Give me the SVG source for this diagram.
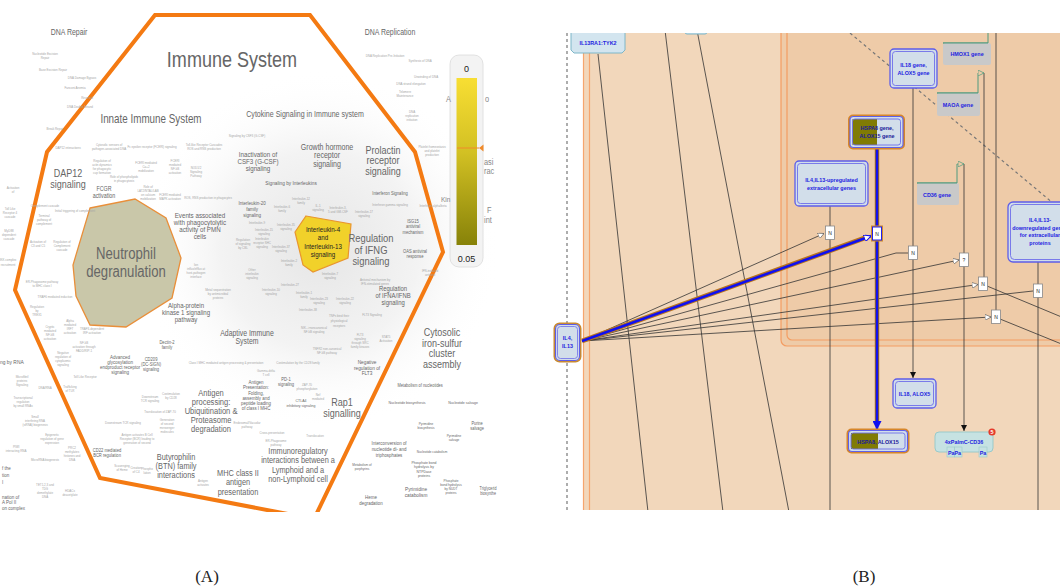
<svg xmlns="http://www.w3.org/2000/svg" width="1060" height="588" viewBox="0 0 1060 588">
<defs>
<style>
.a{font-family:"Liberation Sans",Arial,sans-serif;fill:#666;text-anchor:middle;transform-box:fill-box;transform-origin:50% 50%;transform:scaleX(0.82)}
.s{text-anchor:start;transform-origin:0% 50%}
.t{font-size:3.6px;fill:#a6a6a6}
.num{font-family:"Liberation Sans",Arial,sans-serif;font-size:9px;fill:#222;text-anchor:middle}
.b{font-family:"Liberation Sans",Arial,sans-serif;font-weight:bold;fill:#2323E0;text-anchor:middle;font-size:5.4px}
.cap{font-family:"Liberation Serif","Times New Roman",serif;font-size:17px;fill:#222;text-anchor:middle}
.ln{stroke:#333;stroke-width:0.8;fill:none}
.nb{fill:#fff;stroke:#888;stroke-width:0.8}
.nt{font-family:"Liberation Sans",Arial,sans-serif;font-size:5px;fill:#222;text-anchor:middle}
.o1{fill:#D2DEEA;stroke:#5E5EE8;stroke-width:1.3}
.o2{fill:none;stroke:#6E6EEA;stroke-width:0.9}
.gene{fill:#C9C9C9}
.gl{fill:none;stroke:#4E9A7E;stroke-width:1}
</style>
<clipPath id="cA"><rect x="0" y="0" width="500" height="512"/></clipPath>
<clipPath id="cB"><rect x="555" y="33" width="505" height="477"/></clipPath>
<linearGradient id="lg" x1="0" y1="0" x2="0" y2="1">
<stop offset="0" stop-color="#F8DE33"/><stop offset="0.45" stop-color="#D2C023"/><stop offset="1" stop-color="#878209"/>
</linearGradient>
<radialGradient id="rg" cx="320" cy="250" r="180" gradientUnits="userSpaceOnUse">
<stop offset="0" stop-color="#e6e6e6"/><stop offset="0.55" stop-color="#f3f3f3"/><stop offset="1" stop-color="#ffffff" stop-opacity="0"/>
</radialGradient>
<marker id="oa" viewBox="0 0 10 10" refX="10" refY="5" markerWidth="6" markerHeight="6" orient="auto" markerUnits="userSpaceOnUse">
<path d="M0,0 L10,5 L0,10 z" fill="#fff" stroke="#555" stroke-width="1"/>
</marker>
<marker id="ob" viewBox="0 0 10 10" refX="10" refY="5" markerWidth="7" markerHeight="7" orient="auto" markerUnits="userSpaceOnUse">
<path d="M0,0 L10,5 L0,10 z" fill="#fff" stroke="#1010F0" stroke-width="1.5"/>
</marker>
<marker id="og" viewBox="0 0 10 10" refX="10" refY="5" markerWidth="6" markerHeight="6" orient="auto" markerUnits="userSpaceOnUse">
<path d="M0,0 L10,5 L0,10 z" fill="#EECBA8" stroke="#4E9A7E" stroke-width="1.2"/>
</marker>
<marker id="fa" viewBox="0 0 10 10" refX="10" refY="5" markerWidth="6" markerHeight="6" orient="auto" markerUnits="userSpaceOnUse">
<path d="M0,0 L10,5 L0,10 z" fill="#111"/>
</marker>
<marker id="fb" viewBox="0 0 10 10" refX="10" refY="5" markerWidth="9" markerHeight="9" orient="auto" markerUnits="userSpaceOnUse">
<path d="M0,0 L10,5 L0,10 z" fill="#1010F0"/>
</marker>
</defs>
<rect width="1060" height="588" fill="#fff"/>

<!-- ================= PANEL A ================= -->
<g id="panelA" clip-path="url(#cA)">
<rect x="0" y="0" width="500" height="512" fill="url(#rg)"/>
<g id="immune-system-boundary">
<path d="M155,15 L310,15 L415,152 L443,252 L314,519 L100,478 L15,290 L47,152 Z" fill="none" stroke="#F47A12" stroke-width="4" stroke-linejoin="miter"/>
</g>

<g id="node-neutrophil">
<path d="M90,208 L135,199 L166,218 L181,258 L172,298 L126,327 L90,325 L76,296 L73,265 Z" fill="#C9C7A9" stroke="#E98F3A" stroke-width="1.3"/>
<text class="a" font-size="16" fill="#555"><tspan x="126" y="259">Neutrophil</tspan><tspan x="126" y="277">degranulation</tspan></text>
</g>

<g id="node-il4-il13">
<path d="M306,216 L351,224 L348,258 L313,272 L303,265 L295,232 Z" fill="#F1D12A" stroke="#E9962E" stroke-width="1.2"/>
<text class="a" font-size="7.6" style="fill:#222"><tspan x="323" y="232">Interleukin-4</tspan><tspan x="323" y="240.5">and</tspan><tspan x="323" y="249">Interleukin-13</tspan><tspan x="323" y="257.5">signaling</tspan></text>
</g>

<g id="labels-large">
<text class="a" x="232" y="67" font-size="22">Immune System</text>
<text class="a" x="69" y="35" font-size="8.5">DNA Repair</text>
<text class="a" x="390" y="35" font-size="8.5">DNA Replication</text>
<text class="a" x="151" y="123" font-size="12">Innate Immune System</text>
<text class="a" x="305" y="117" font-size="8.6">Cytokine Signaling in Immune system</text>
<text class="a" font-size="11"><tspan x="68" y="177">DAP12</tspan><tspan x="68" y="188">signaling</tspan></text>
<text class="a" font-size="6.5"><tspan x="104" y="191">FCGR</tspan><tspan x="104" y="198">activation</tspan></text>
<text class="a" font-size="7.6"><tspan x="258" y="157.5">Inactivation of</tspan><tspan x="258" y="164.5">CSF3 (G-CSF)</tspan><tspan x="258" y="171.5">signaling</tspan></text>
<text class="a" font-size="8.6"><tspan x="327" y="150">Growth hormone</tspan><tspan x="327" y="158.5">receptor</tspan><tspan x="327" y="167">signaling</tspan></text>
<text class="a" font-size="11"><tspan x="383" y="154">Prolactin</tspan><tspan x="383" y="164.5">receptor</tspan><tspan x="383" y="175">signaling</tspan></text>
<text class="a" x="291" y="185" font-size="5.8">Signaling by Interleukins</text>
<text class="a" x="390" y="195.5" font-size="5">Interferon Signaling</text>
<text class="a" font-size="7.6"><tspan x="200" y="218.5">Events associated</tspan><tspan x="200" y="225.5">with phagocytolytic</tspan><tspan x="200" y="232.5">activity of PMN</tspan><tspan x="200" y="239.5">cells</tspan></text>
<text class="a" font-size="5.5"><tspan x="252" y="205">Interleukin-20</tspan><tspan x="252" y="211">family</tspan><tspan x="252" y="217">signaling</tspan></text>
<text class="a" font-size="11.5"><tspan x="371" y="242">Regulation</tspan><tspan x="371" y="254">of IFNG</tspan><tspan x="371" y="265.5">signaling</tspan></text>
<text class="a" font-size="5"><tspan x="413" y="223">ISG15</tspan><tspan x="413" y="228.5">antiviral</tspan><tspan x="413" y="234">mechanism</tspan></text>
<text class="a" font-size="5"><tspan x="415" y="253">OAS antiviral</tspan><tspan x="415" y="258.5">response</tspan></text>
<text class="a" font-size="7.4"><tspan x="186" y="308.5">Alpha-protein</tspan><tspan x="186" y="315.5">kinase 1 signaling</tspan><tspan x="186" y="322.5">pathway</tspan></text>
<text class="a" font-size="7.2"><tspan x="393" y="291.5">Regulation</tspan><tspan x="393" y="298.5">of IFNA/IFNB</tspan><tspan x="393" y="305.5">signaling</tspan></text>
<text class="a" font-size="8.4"><tspan x="247" y="336">Adaptive Immune</tspan><tspan x="247" y="344">System</tspan></text>
<text class="a" font-size="11"><tspan x="442" y="336">Cytosolic</tspan><tspan x="442" y="347">iron-sulfur</tspan><tspan x="442" y="357.5">cluster</tspan><tspan x="442" y="368">assembly</tspan></text>
<text class="a" font-size="9.2"><tspan x="211" y="396">Antigen</tspan><tspan x="211" y="405">processing:</tspan><tspan x="211" y="414">Ubiquitination &amp;</tspan><tspan x="211" y="423">Proteasome</tspan><tspan x="211" y="432">degradation</tspan></text>
<text class="a" font-size="5.4"><tspan x="256" y="384">Antigen</tspan><tspan x="256" y="389.3">Presentation:</tspan><tspan x="256" y="394.6">Folding,</tspan><tspan x="256" y="399.9">assembly and</tspan><tspan x="256" y="405.2">peptide loading</tspan><tspan x="256" y="410.5">of class I MHC</tspan></text>
<text class="a" font-size="5"><tspan x="286" y="381">PD-1</tspan><tspan x="286" y="386.5">signaling</tspan></text>
<text class="a" font-size="11"><tspan x="342" y="406.5">Rap1</tspan><tspan x="342" y="417">signalling</tspan></text>
<text class="a" font-size="5.8"><tspan x="367" y="364.5">Negative</tspan><tspan x="367" y="370">regulation of</tspan><tspan x="367" y="375.5">FLT3</tspan></text>
<text class="a" font-size="4.3"><tspan x="301" y="402">CTLA4</tspan><tspan x="301" y="407">inhibitory signaling</tspan></text>
<text class="a" font-size="9"><tspan x="176" y="460">Butyrophilin</tspan><tspan x="176" y="469">(BTN) family</tspan><tspan x="176" y="478">interactions</tspan></text>
<text class="a" font-size="9"><tspan x="238" y="476">MHC class II</tspan><tspan x="238" y="485.5">antigen</tspan><tspan x="238" y="495">presentation</tspan></text>
<text class="a" font-size="9"><tspan x="298" y="454">Immunoregulatory</tspan><tspan x="298" y="463.5">interactions between a</tspan><tspan x="298" y="473">Lymphoid and a</tspan><tspan x="298" y="482.5">non-Lymphoid cell</tspan></text>
<text class="a" font-size="5.4"><tspan x="389" y="445">Interconversion of</tspan><tspan x="389" y="451">nucleotide di- and</tspan><tspan x="389" y="457">triphosphates</tspan></text>
<text class="a" font-size="5.8"><tspan x="416" y="491">Pyrimidine</tspan><tspan x="416" y="497.5">catabolism</tspan></text>
<text class="a" font-size="5.4"><tspan x="371" y="499">Heme</tspan><tspan x="371" y="505">degradation</tspan></text>
<text class="a" font-size="5.5"><tspan x="120" y="359">Advanced</tspan><tspan x="120" y="364">glycosylation</tspan><tspan x="120" y="369">endproduct receptor</tspan><tspan x="120" y="374">signaling</tspan></text>
<text class="a" font-size="5"><tspan x="151" y="361">CD209</tspan><tspan x="151" y="366">(DC-SIGN)</tspan><tspan x="151" y="371">signaling</tspan></text>
<text class="a" font-size="5"><tspan x="167" y="344">Dectin-2</tspan><tspan x="167" y="349.5">family</tspan></text>
<text class="a" font-size="5"><tspan x="107" y="452">CD22 mediated</tspan><tspan x="107" y="457.5">BCR regulation</tspan></text>
<text class="a s" x="0" y="364" font-size="6">ng by RNA</text>
<text class="a s" font-size="5.5"><tspan x="2" y="470">f the</tspan><tspan x="2" y="477">tion</tspan><tspan x="2" y="484">I</tspan><tspan x="2" y="499">nation of</tspan><tspan x="2" y="504.5">A Pol II</tspan><tspan x="2" y="510">on complex</tspan></text>
<text class="a" x="420" y="387" font-size="4.8">Metabolism of nucleotides</text>
<text class="a" x="407" y="404" font-size="4.3">Nucleotide biosynthesis</text>
<text class="a" x="463" y="404" font-size="4.3">Nucleotide salvage</text>
<text class="a" font-size="4.8"><tspan x="477" y="425">Purine</tspan><tspan x="477" y="430.5">salvage</tspan></text>
<text class="a" font-size="3.8"><tspan x="426" y="425">Pyrimidine</tspan><tspan x="426" y="429.5">biosynthesis</tspan></text>
<text class="a" font-size="3.8"><tspan x="454" y="437">Pyrimidine</tspan><tspan x="454" y="441.5">salvage</tspan></text>
<text class="a" font-size="4.5"><tspan x="488" y="490">Triglycerid</tspan><tspan x="488" y="495">biosynthe</tspan></text>
<text class="a" font-size="4.2"><tspan x="424" y="464">Phosphate bond</tspan><tspan x="424" y="468.5">hydrolysis by</tspan><tspan x="424" y="473">NTPDase</tspan><tspan x="424" y="477.5">proteins</tspan></text>
<text class="a" font-size="3.8"><tspan x="451" y="482">Phosphate</tspan><tspan x="451" y="486">bond hydrolysis</tspan><tspan x="451" y="490">by NUDT</tspan><tspan x="451" y="494">proteins</tspan></text>
<text class="a" x="432" y="453" font-size="3.8">Nucleotide catabolism</text>
<text class="a" font-size="3.8"><tspan x="362" y="466">Metabolism of</tspan><tspan x="362" y="470">porphyrins</tspan></text>
</g>

<g id="labels-small">
<text class="a t" x="385" y="57">DNA Replication Pre-Initiation</text>
<text class="a t" x="420" y="62">Synthesis of DNA</text>
<text class="a t" x="426" y="78">Unwinding of DNA</text>
<text class="a t" x="411" y="85">DNA strand elongation</text>
<text class="a t"><tspan x="405" y="93">Telomere</tspan><tspan x="405" y="97">Maintenance</tspan></text>
<text class="a t"><tspan x="412" y="113">DNA</tspan><tspan x="412" y="117">replication</tspan><tspan x="412" y="121">initiation</tspan></text>
<text class="a t"><tspan x="432" y="148">Platelet homeostasis</tspan><tspan x="432" y="152">and platelet</tspan><tspan x="432" y="156">production</tspan></text>
<text class="a t"><tspan x="45" y="55">Nucleotide Excision</tspan><tspan x="45" y="59">Repair</tspan></text>
<text class="a t" x="53" y="71">Base Excision Repair</text>
<text class="a t" x="82" y="79">DNA Damage Bypass</text>
<text class="a t" x="75" y="89">Fanconi Anemia</text>
<text class="a t" x="87" y="99">Reversal</text>
<text class="a t" x="80" y="108">DNA Double-Strand</text>
<text class="a t" x="55" y="130">Break Repair</text>
<text class="a t" x="68" y="149">DAP12 interactions</text>
<text class="a t"><tspan x="109" y="146">Cytosolic sensors of</tspan><tspan x="109" y="150">pathogen-associated DNA</tspan></text>
<text class="a t" x="152" y="148">Fc epsilon receptor (FCERI) signaling</text>
<text class="a t"><tspan x="204" y="146">Toll-like Receptor Cascades</tspan><tspan x="204" y="150">ROS and RNS production</tspan></text>
<text class="a t"><tspan x="102" y="162">Regulation of</tspan><tspan x="102" y="166">actin dynamics</tspan><tspan x="102" y="170">for phagocytic</tspan><tspan x="102" y="174">cup formation</tspan></text>
<text class="a t"><tspan x="146" y="164">FCERI mediated</tspan><tspan x="146" y="168">Ca+2</tspan><tspan x="146" y="172">mobilization</tspan></text>
<text class="a t"><tspan x="175" y="162">FCERI</tspan><tspan x="175" y="166">mediated</tspan><tspan x="175" y="170">NF-kB</tspan><tspan x="175" y="174">activation</tspan></text>
<text class="a t"><tspan x="196" y="169">NOD1/2</tspan><tspan x="196" y="173">Signaling</tspan><tspan x="196" y="177">Pathway</tspan></text>
<text class="a t"><tspan x="124" y="178">Role of phospholipids</tspan><tspan x="124" y="182">in phagocytosis</tspan></text>
<text class="a t"><tspan x="148" y="188">Role of</tspan><tspan x="148" y="192">LAT2/NTAL/LAB</tspan><tspan x="148" y="196">on calcium</tspan><tspan x="148" y="200">mobilization</tspan></text>
<text class="a t"><tspan x="170" y="196">FCERI mediated</tspan><tspan x="170" y="200">MAPK activation</tspan></text>
<text class="a t" x="208" y="199">ROS, RNS production in phagocytes</text>
<text class="a t" x="247" y="137">Signaling by CSF3 (G-CSF)</text>
<text class="a t" x="45" y="207">Complement cascade</text>
<text class="a t"><tspan x="44" y="217">Terminal</tspan><tspan x="44" y="221">pathway of</tspan><tspan x="44" y="225">complement</tspan></text>
<text class="a t" x="75" y="212">Initial triggering of complement</text>
<text class="a t"><tspan x="38" y="243">Activation of</tspan><tspan x="38" y="247">C3 and C5</tspan></text>
<text class="a t"><tspan x="62" y="243">Regulation of</tspan><tspan x="62" y="247">Complement</tspan><tspan x="62" y="251">cascade</tspan></text>
<text class="a t"><tspan x="42" y="283">ER-Phagosome pathway</tspan><tspan x="42" y="287">to MHC class I</tspan></text>
<text class="a t" x="55" y="298">TRAF6 mediated induction</text>
<text class="a t"><tspan x="37" y="308">Regulation</tspan><tspan x="37" y="312">by</tspan><tspan x="37" y="316">TREX1</tspan></text>
<text class="a t"><tspan x="50" y="328">Cryptic</tspan><tspan x="50" y="332">mediated</tspan><tspan x="50" y="336">NF-kB</tspan><tspan x="50" y="340">activation</tspan></text>
<text class="a t"><tspan x="70" y="322">Alpha</tspan><tspan x="70" y="326">mediated</tspan><tspan x="70" y="330">IRF7</tspan><tspan x="70" y="334">activation</tspan></text>
<text class="a t"><tspan x="92" y="330">TRAF3-dependent</tspan><tspan x="92" y="334">IRF activation</tspan></text>
<text class="a t"><tspan x="84" y="344">NF-kB</tspan><tspan x="84" y="348">activation through</tspan><tspan x="84" y="352">FADD/RIP-1</tspan></text>
<text class="a t"><tspan x="63" y="354">Negative</tspan><tspan x="63" y="358">regulation of</tspan><tspan x="63" y="362">cytoplasmic</tspan><tspan x="63" y="366">signaling</tspan></text>
<text class="a t" x="85" y="378">Toll Like Receptor</text>
<text class="a t"><tspan x="70" y="388">Trafficking</tspan><tspan x="70" y="392">of TLR</tspan></text>
<text class="a t"><tspan x="22" y="378">Microfibril</tspan><tspan x="22" y="382">proteins</tspan><tspan x="22" y="386">Signaling</tspan></text>
<text class="a t" x="45" y="389">DNA/RNA</text>
<text class="a t"><tspan x="23" y="399">Transcriptional</tspan><tspan x="23" y="403">regulation</tspan><tspan x="23" y="407">by small RNAs</tspan></text>
<text class="a t"><tspan x="35" y="418">Small</tspan><tspan x="35" y="422">interfering RNA</tspan><tspan x="35" y="426">(siRNA) biogenesis</tspan></text>
<text class="a t"><tspan x="52" y="436">Epigenetic</tspan><tspan x="52" y="440">regulation of gene</tspan><tspan x="52" y="444">expression</tspan></text>
<text class="a t"><tspan x="16" y="448">PIWI</tspan><tspan x="16" y="452">interacting RNA</tspan></text>
<text class="a t" x="45" y="461">MicroRNA biogenesis</text>
<text class="a t"><tspan x="72" y="449">PRC2</tspan><tspan x="72" y="453">methylates</tspan><tspan x="72" y="457">histones and</tspan><tspan x="72" y="461">DNA</tspan></text>
<text class="a t"><tspan x="45" y="486">TET1,2,3 and</tspan><tspan x="45" y="490">TDG</tspan><tspan x="45" y="494">demethylate</tspan><tspan x="45" y="498">DNA</tspan></text>
<text class="a t"><tspan x="70" y="492">HDACs</tspan><tspan x="70" y="496">deacetylate</tspan></text>
<text class="a t"><tspan x="122" y="467">Scavenging</tspan><tspan x="122" y="471">of Heme</tspan></text>
<text class="a t"><tspan x="136" y="469">Creation</tspan><tspan x="136" y="473">of C4</tspan></text>
<text class="a t"><tspan x="147" y="470">Phospho</tspan><tspan x="147" y="474">lation</tspan></text>
<text class="a t"><tspan x="137" y="436">Antigen activates B Cell</tspan><tspan x="137" y="440">Receptor (BCR) leading to</tspan><tspan x="137" y="444">generation of second</tspan></text>
<text class="a t"><tspan x="167" y="421">Generation</tspan><tspan x="167" y="425">of second</tspan><tspan x="167" y="429">messenger</tspan><tspan x="167" y="433">molecules</tspan></text>
<text class="a t" x="160" y="413">Translocation of ZAP-70</text>
<text class="a t" x="123" y="424">Downstream TCR signaling</text>
<text class="a t"><tspan x="150" y="398">Downstream</tspan><tspan x="150" y="402">TCR signaling</tspan></text>
<text class="a t"><tspan x="171" y="395">Costimulation</tspan><tspan x="171" y="399">by CD28</tspan></text>
<text class="a t" x="226" y="364">Class I MHC mediated antigen processing &amp; presentation</text>
<text class="a t" x="298" y="364">Costimulation by the CD28 family</text>
<text class="a t"><tspan x="266" y="372">Gamma-delta</tspan><tspan x="266" y="376">T cell</tspan></text>
<text class="a t"><tspan x="247" y="424">Endosomal/Vacuolar</tspan><tspan x="247" y="428">pathway</tspan></text>
<text class="a t" x="272" y="434">Cross-presentation</text>
<text class="a t"><tspan x="276" y="442">ER-Phagosome</tspan><tspan x="276" y="446">pathway</tspan></text>
<text class="a t" x="315" y="437">Translocation</text>
<text class="a t"><tspan x="307" y="386">ZAP-70</tspan><tspan x="307" y="390">phosphorylation</tspan></text>
<text class="a t"><tspan x="318" y="396">Nef</tspan><tspan x="318" y="400">mediated</tspan></text>
<text class="a t"><tspan x="196" y="266">Ion</tspan><tspan x="196" y="270">influx/efflux at</tspan><tspan x="196" y="274">host-pathogen</tspan><tspan x="196" y="278">interface</tspan></text>
<text class="a t"><tspan x="252" y="271">Other</tspan><tspan x="252" y="275">interleukin</tspan><tspan x="252" y="279">signaling</tspan></text>
<text class="a t"><tspan x="218" y="291">Metal sequestration</tspan><tspan x="218" y="295">by antimicrobial</tspan><tspan x="218" y="299">proteins</tspan></text>
<text class="a t"><tspan x="271" y="291">Interleukin-10</tspan><tspan x="271" y="295">signaling</tspan></text>
<text class="a t"><tspan x="243" y="241">Regulation</tspan><tspan x="243" y="245">of signaling</tspan><tspan x="243" y="249">by CBL</tspan></text>
<text class="a t"><tspan x="262" y="240">Interleukin</tspan><tspan x="262" y="244">receptor SHC</tspan><tspan x="262" y="248">signaling</tspan></text>
<text class="a t"><tspan x="281" y="248">Interleukin-37</tspan><tspan x="281" y="252">signaling</tspan></text>
<text class="a t"><tspan x="289" y="262">Interleukin-2</tspan><tspan x="289" y="266">family</tspan></text>
<text class="a t"><tspan x="330" y="275">Interleukin-7</tspan><tspan x="330" y="279">signaling</tspan></text>
<text class="a t"><tspan x="282" y="208">Interleukin-6</tspan><tspan x="282" y="212">family</tspan></text>
<text class="a t"><tspan x="301" y="200">Interleukin-12</tspan><tspan x="301" y="204">family</tspan></text>
<text class="a t"><tspan x="318" y="207">IL-1</tspan><tspan x="318" y="211">signaling</tspan></text>
<text class="a t"><tspan x="338" y="209">Interleukin-3,</tspan><tspan x="338" y="213">5 and GM-CSF</tspan></text>
<text class="a t"><tspan x="364" y="213">Interleukin-17</tspan><tspan x="364" y="217">signaling</tspan></text>
<text class="a t" x="390" y="206">Interferon gamma signaling</text>
<text class="a t" x="433" y="207">Interferon alpha/beta</text>
<text class="a t"><tspan x="264" y="231">Interleukin-15</tspan><tspan x="264" y="235">signaling</tspan></text>
<text class="a t" x="257" y="224">Interleukin-9</text>
<text class="a t"><tspan x="286" y="226">Interleukin-35</tspan><tspan x="286" y="230">signaling</tspan></text>
<text class="a t" x="290" y="286">Interleukin-27</text>
<text class="a t"><tspan x="304" y="294">Interleukin-1</tspan><tspan x="304" y="298">family</tspan></text>
<text class="a t"><tspan x="319" y="300">Interleukin-23</tspan><tspan x="319" y="304">signaling</tspan></text>
<text class="a t"><tspan x="345" y="300">Interleukin-22</tspan><tspan x="345" y="304">signaling</tspan></text>
<text class="a t" x="308" y="311">Interleukin-38</text>
<text class="a t"><tspan x="339" y="317">TNFs bind their</tspan><tspan x="339" y="322">physiological</tspan><tspan x="339" y="327">receptors</tspan></text>
<text class="a t"><tspan x="314" y="329">NIK--&gt;noncanonical</tspan><tspan x="314" y="333">NF-kB signaling</tspan></text>
<text class="a t"><tspan x="327" y="350">TNFR2 non-canonical</tspan><tspan x="327" y="354">NF-kB pathway</tspan></text>
<text class="a t" x="372" y="316">FLT3 Signaling</text>
<text class="a t"><tspan x="360" y="336">FLT3</tspan><tspan x="360" y="340">signaling</tspan><tspan x="360" y="344">through SRC</tspan><tspan x="360" y="348">family kinases</tspan></text>
<text class="a t"><tspan x="386" y="338">STAT5</tspan><tspan x="386" y="342">Activation</tspan></text>
<text class="a t"><tspan x="375" y="281">Antiviral mechanism by</tspan><tspan x="375" y="285">IFN-stimulated genes</tspan></text>
<text class="a t"><tspan x="430" y="272">IFN-induced</tspan><tspan x="430" y="276">antiviral</tspan></text>
<text class="a t"><tspan x="203" y="482">Antigen</tspan><tspan x="203" y="486">activates</tspan></text>
<text class="a t"><tspan x="13" y="189">Activation</tspan><tspan x="13" y="193">of</tspan></text>
<text class="a t"><tspan x="10" y="210">Toll Like</tspan><tspan x="10" y="214">Receptor 4</tspan><tspan x="10" y="218">cascade</tspan></text>
<text class="a t"><tspan x="9" y="232">MyD88</tspan><tspan x="9" y="236">dependent</tspan><tspan x="9" y="240">cascade</tspan></text>
<text class="a t"><tspan x="8" y="261">IKK complex</tspan><tspan x="8" y="266">recruitment</tspan></text>
</g>

<g id="legend">
<rect x="450" y="55" width="33" height="212" rx="9" fill="#F3F3F3" stroke="#DADADA" stroke-width="0.8"/>
<rect x="456.5" y="78" width="20.5" height="167" fill="url(#lg)"/>
<text class="num" x="466.5" y="72">0</text>
<text class="num" x="466.5" y="262">0.05</text>
<line x1="457" y1="148" x2="479" y2="148" stroke="#F08A2A" stroke-width="1"/>
<path d="M479,148 L483.5,144.5 L483.5,151.5 Z" fill="#F08A2A"/>
</g>
<g id="legend-occluded-labels">
<text class="a s" x="446" y="102" font-size="9" style="fill:#888">A</text>
<text class="a s" x="485" y="102" font-size="9" style="fill:#888">o</text>
<text class="a s" x="484" y="165" font-size="9" style="fill:#888">asi</text>
<text class="a s" x="484" y="174" font-size="9" style="fill:#888">rac</text>
<text class="a s" x="441" y="202" font-size="8" style="fill:#888">Kin</text>
<text class="a s" x="487" y="213" font-size="9" style="fill:#888">F</text>
<text class="a s" x="484" y="223" font-size="9" style="fill:#888">int</text>
</g>
</g>

<!-- ================= PANEL B ================= -->
<g id="panelB">
<g clip-path="url(#cB)">
<g id="compartments">
<rect x="583" y="20" width="490" height="500" fill="#F2D7BB"/>
<line x1="583.5" y1="20" x2="583.5" y2="520" stroke="#F6A56E" stroke-width="1.2"/>
<line x1="589.5" y1="20" x2="589.5" y2="520" stroke="#F6A56E" stroke-width="1.2"/>
<rect x="781" y="10" width="300" height="336" rx="6" fill="#EECBA8" stroke="#F49D62" stroke-width="1.2"/>
<rect x="787" y="10" width="290" height="330" rx="5" fill="none" stroke="#F49D62" stroke-width="1.2"/>
<line x1="567" y1="33" x2="567" y2="510" stroke="#777" stroke-width="1.2" stroke-dasharray="3,3"/>
<line x1="850" y1="33" x2="1066" y2="214" stroke="#777" stroke-width="1.2" stroke-dasharray="3,3"/>
</g>

<g id="connectors">
<line class="ln" x1="598" y1="54" x2="648" y2="512"/>
<line class="ln" x1="665" y1="30" x2="723" y2="512"/>
<line class="ln" x1="697" y1="30" x2="789" y2="512"/>
<line class="ln" x1="830" y1="206" x2="830" y2="512"/>
<line class="ln" x1="913" y1="88" x2="913" y2="378" marker-end="url(#fa)"/>
<line class="ln" x1="964" y1="164" x2="964" y2="431" marker-end="url(#fa)"/>
<line class="ln" x1="984" y1="73" x2="984" y2="277"/>
<line class="ln" x1="996" y1="30" x2="996" y2="310"/>
<line class="ln" x1="1038" y1="262" x2="1038" y2="512"/>
<line class="ln" x1="987" y1="286" x2="1064" y2="318"/>
<line class="ln" x1="1000" y1="319" x2="1064" y2="345"/>
<line class="ln" x1="582" y1="341" x2="824" y2="233.5" marker-end="url(#oa)"/>
<polyline class="ln" points="582,341 896,253 908,253"/>
<line class="ln" x1="582" y1="341" x2="959" y2="260" marker-end="url(#oa)"/>
<line class="ln" x1="582" y1="341" x2="978" y2="284.5" marker-end="url(#oa)"/>
<line class="ln" x1="582" y1="341" x2="1033" y2="291"/>
<line class="ln" x1="582" y1="341" x2="991" y2="317" marker-end="url(#oa)"/>
<path class="gl" d="M943,43 H988 V28"/>
<path class="gl" d="M937,93 H978 V73 H984" marker-end="url(#og)"/>
<path class="gl" d="M917,183 H957 V164 H964" marker-end="url(#og)"/>
<g id="highlighted-path">
<line x1="582" y1="341" x2="866" y2="237.5" stroke="#B8741E" stroke-width="5"/>
<line x1="582" y1="341" x2="871" y2="236" stroke="#1010F0" stroke-width="2.6" marker-end="url(#ob)"/>
<line x1="877" y1="148" x2="877" y2="421" stroke="#9A6A1E" stroke-width="4.4"/>
<line x1="877" y1="148" x2="877" y2="430" stroke="#1010F0" stroke-width="2.4" marker-end="url(#fb)"/>
</g>
</g>

<g id="process-nodes">
<g id="pn1"><rect class="nb" x="825.5" y="226" width="9" height="13.5"/><text class="nt" x="830" y="235">N</text></g>
<g id="pn2"><rect x="872" y="226.5" width="10" height="14" fill="#fff" stroke="#D08A2A" stroke-width="2"/><rect x="872.5" y="227" width="9" height="13" fill="#fff" stroke="#2020F0" stroke-width="1"/><text class="nt" x="877" y="236">N</text></g>
<g id="pn3"><rect class="nb" x="908.5" y="246" width="9" height="13.5"/><text class="nt" x="913" y="255">N</text></g>
<g id="pn4"><rect class="nb" x="959.5" y="253" width="9" height="13.5"/><text class="nt" x="964" y="262">?</text></g>
<g id="pn5"><rect class="nb" x="978.5" y="277" width="9" height="13.5"/><text class="nt" x="983" y="286">N</text></g>
<g id="pn6"><rect class="nb" x="1033.5" y="284" width="9" height="13.5"/><text class="nt" x="1038" y="293">N</text></g>
<g id="pn7"><rect class="nb" x="991.5" y="310" width="9" height="13.5"/><text class="nt" x="996" y="319">N</text></g>
</g>

<g id="node-il13ra1-tyk2">
<path d="M573,30 H622 L625,33 V50 L622,53 H574 L571,50 V33 Z" fill="#D3E5EF" stroke="#7DB6C8" stroke-width="1"/>
<text class="b" x="598" y="45">IL13RA1:TYK2</text>
</g>
<g id="node-top-clipped">
<rect x="685" y="26" width="22" height="8" rx="2" fill="#D3E5EF" stroke="#7DB6C8" stroke-width="1"/>
</g>

<g id="node-hmox1-gene">
<rect class="gene" x="943" y="43" width="48" height="22" rx="2"/>
<line x1="943" y1="43" x2="988" y2="43" stroke="#4E9A7E" stroke-width="1"/>
<text class="b" x="967" y="56">HMOX1 gene</text>
</g>
<g id="node-maoa-gene">
<rect class="gene" x="937" y="93" width="43" height="23" rx="2"/>
<line x1="937" y1="93" x2="978" y2="93" stroke="#4E9A7E" stroke-width="1"/>
<text class="b" x="958" y="107">MAOA gene</text>
</g>
<g id="node-cd36-gene">
<rect class="gene" x="917" y="183" width="42" height="22" rx="2"/>
<line x1="917" y1="183" x2="957" y2="183" stroke="#4E9A7E" stroke-width="1"/>
<text class="b" x="937" y="197">CD36 gene</text>
</g>

<g id="node-il18-alox5-gene">
<rect class="o1" x="890" y="49" width="47" height="39" rx="4"/>
<rect class="o2" x="892.5" y="51.5" width="42" height="34" rx="3"/>
<text class="b"><tspan x="913.5" y="67">IL18 gene,</tspan><tspan x="913.5" y="75">ALOX5 gene</tspan></text>
</g>

<g id="node-hspa8-alox15-gene">
<rect x="849" y="115.5" width="55" height="33" rx="4" fill="#fff" stroke="#D6862A" stroke-width="2"/>
<rect x="850" y="116.5" width="53" height="31" rx="3.5" fill="#D2DEEA" stroke="#6060E8" stroke-width="1.1"/>
<path d="M852.5,119 H877 V145 H852.5 Z" fill="#807B04"/>
<rect class="o2" x="852.5" y="119" width="48" height="26" rx="2.5"/>
<text class="b" style="fill:#1A1A9A"><tspan x="877" y="130">HSPA8 gene,</tspan><tspan x="877" y="138">ALOX15 gene</tspan></text>
</g>

<g id="node-upregulated">
<rect class="o1" x="795" y="161" width="73" height="45" rx="4"/>
<rect class="o2" x="797.5" y="163.5" width="68" height="40" rx="3"/>
<text class="b"><tspan x="831.5" y="182">IL4,IL13-upregulated</tspan><tspan x="831.5" y="190">extracellular genes</tspan></text>
</g>

<g id="node-downregulated">
<rect class="o1" x="1008" y="202" width="70" height="60" rx="5"/>
<rect class="o2" x="1010.5" y="204.5" width="65" height="55" rx="4"/>
<text class="b"><tspan x="1040" y="222">IL4,IL13-</tspan><tspan x="1040" y="229.5">downregulated genes</tspan><tspan x="1040" y="237">for extracellular</tspan><tspan x="1040" y="244.5">proteins</tspan></text>
</g>

<g id="node-il18-alox5">
<rect class="o1" x="893" y="379" width="43" height="29" rx="4"/>
<rect class="o2" x="895.5" y="381.5" width="38" height="24" rx="3"/>
<text class="b" x="914.5" y="396">IL18, ALOX5</text>
</g>

<g id="node-hspa8-alox15">
<rect x="847.5" y="429.5" width="61" height="23" rx="4" fill="#fff" stroke="#D6862A" stroke-width="2"/>
<rect x="848.5" y="430.5" width="59" height="21" rx="3.5" fill="#D2DEEA" stroke="#6060E8" stroke-width="1.1"/>
<path d="M851,433 H878 V449 H851 Z" fill="#807B04"/>
<rect class="o2" x="851" y="433" width="54" height="16" rx="2.5"/>
<text class="b" x="878" y="443.5" style="fill:#1A1A9A">HSPA8, ALOX15</text>
</g>

<g id="node-4xpalmc-cd36">
<rect x="935" y="432" width="58" height="20" rx="4" fill="#C6E2E2" stroke="#9ACACA" stroke-width="1"/>
<rect x="947" y="447" width="7.5" height="10" fill="#C6E2E2" stroke="#9ACACA" stroke-width="0.6"/>
<rect x="954.5" y="447" width="7.5" height="10" fill="#C6E2E2" stroke="#9ACACA" stroke-width="0.6"/>
<rect x="979" y="447" width="8" height="10" fill="#C6E2E2" stroke="#9ACACA" stroke-width="0.6"/>
<text class="b" x="964" y="444">4xPalmC-CD36</text>
<text class="b" x="954.5" y="455">PaPa</text>
<text class="b" x="983" y="455">Pa</text>
<circle cx="992" cy="432" r="3.6" fill="#E53A2A"/>
<text x="992" y="434.2" font-family="Liberation Sans,Arial,sans-serif" font-size="5.5" font-weight="bold" fill="#fff" text-anchor="middle">5</text>
</g>
</g>

<g id="node-il4-il13">
<rect x="554.5" y="323.5" width="26" height="38" rx="5" fill="#D2DEEA" stroke="#C98A30" stroke-width="2"/>
<rect x="555.5" y="324.5" width="24" height="36" rx="4.5" fill="none" stroke="#5E5EE8" stroke-width="1.1"/>
<rect x="557.5" y="326.5" width="20" height="32" rx="3" fill="none" stroke="#6E6EEA" stroke-width="0.8"/>
<text class="b"><tspan x="567.5" y="340">IL4,</tspan><tspan x="567.5" y="348">IL13</tspan></text>
</g>
</g>

<text class="cap" x="207" y="582">(A)</text>
<text class="cap" x="864" y="582">(B)</text>
</svg>
